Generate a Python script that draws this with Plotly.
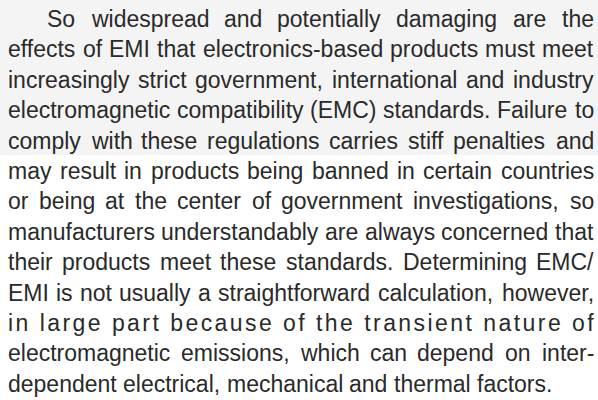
import plotly.graph_objects as go

# ---- text content (one entry per printed line) ----
lines = [
    "So widespread and potentially damaging are the",
    "effects of EMI that electronics-based products must meet",
    "increasingly strict government, international and industry",
    "electromagnetic compatibility (EMC) standards. Failure to",
    "comply with these regulations carries stiff penalties and",
    "may result in products being banned in certain countries",
    "or being at the center of government investigations, so",
    "manufacturers understandably are always concerned that",
    "their products meet these standards. Determining EMC/",
    "EMI is not usually a straightforward calculation, however,",
    "in large part because of the transient nature of",
    "electromagnetic emissions, which can depend on inter-",
    "dependent electrical, mechanical and thermal factors.",
]
indented_lines = [0]
letterspaced_lines = [10]
last_line = len(lines) - 1

# ---- style / layout ----
FONT = "Liberation Sans, Arial, Helvetica, sans-serif"
FS = 23
COLOR = "#2a2a2a"
LEFT = 8.0
RIGHT = 593.5
INDENT = 39.0
BASE0 = 27.0
LEAD = 30.4
TOP_BG = "#f4f4f4"
TOP_BG_END = 155

# Arial / Liberation Sans advance widths (units per 1000 em)
ADV = {
    " ": 278, ",": 278, ".": 278, "-": 333, "/": 278, "(": 333, ")": 333,
    "A": 667, "B": 667, "C": 722, "D": 722, "E": 667, "F": 611, "G": 778,
    "H": 722, "I": 278, "J": 500, "K": 667, "L": 556, "M": 833, "N": 722,
    "O": 778, "P": 667, "Q": 778, "R": 722, "S": 667, "T": 611, "U": 722,
    "V": 667, "W": 944, "X": 667, "Y": 667, "Z": 611,
    "a": 556, "b": 556, "c": 500, "d": 556, "e": 556, "f": 278, "g": 556,
    "h": 556, "i": 222, "j": 222, "k": 500, "l": 222, "m": 833, "n": 556,
    "o": 556, "p": 556, "q": 556, "r": 333, "s": 500, "t": 278, "u": 556,
    "v": 500, "w": 722, "x": 500, "y": 500, "z": 500,
}


def width(s):
    return sum(ADV.get(c, 556) for c in s) * FS / 1000.0


annotations = []


def add(text, x, y, anchor="left"):
    annotations.append(dict(
        x=x, y=y, xref="x", yref="y", text=text, showarrow=False,
        xanchor=anchor, yanchor="middle", borderpad=0, borderwidth=0,
        font=dict(family=FONT, size=FS, color=COLOR),
    ))


for i, line in enumerate(lines):
    base = BASE0 + i * LEAD
    yc = base - 0.347 * FS
    left = LEFT + (INDENT if i in indented_lines else 0)
    words = line.split(" ")
    if i in letterspaced_lines:
        natural = width(line)
        track = (RIGHT - left - natural) / (len(line) - 1)
        add('<span style="letter-spacing:%.2fpx">%s</span>' % (track, line), left, yc)
        continue
    if i == last_line:
        x = left
        for w in words:
            add(w, x, yc)
            x += width(w) + width(" ")
        continue
    total = sum(width(w) for w in words)
    gap = (RIGHT - left - total) / (len(words) - 1)
    x = left
    for j, w in enumerate(words):
        if j == len(words) - 1:
            add(w, RIGHT, yc, anchor="right")
        else:
            add(w, x, yc)
        x += width(w) + gap

fig = go.Figure()
fig.add_shape(type="rect", x0=0, x1=598, y0=0, y1=TOP_BG_END, xref="x", yref="y",
              fillcolor=TOP_BG, line=dict(width=0), layer="below")
fig.update_layout(
    width=598, height=400,
    margin=dict(l=0, r=0, t=0, b=0),
    paper_bgcolor="#ffffff", plot_bgcolor="#ffffff",
    xaxis=dict(range=[0, 598], visible=False, fixedrange=True),
    yaxis=dict(range=[400, 0], visible=False, fixedrange=True),
    annotations=annotations,
    showlegend=False,
)
fig.write_html(
    "out.html",
    config={"displayModeBar": False},
    post_script="document.body.style.margin='0';document.body.style.overflow='hidden';",
)
